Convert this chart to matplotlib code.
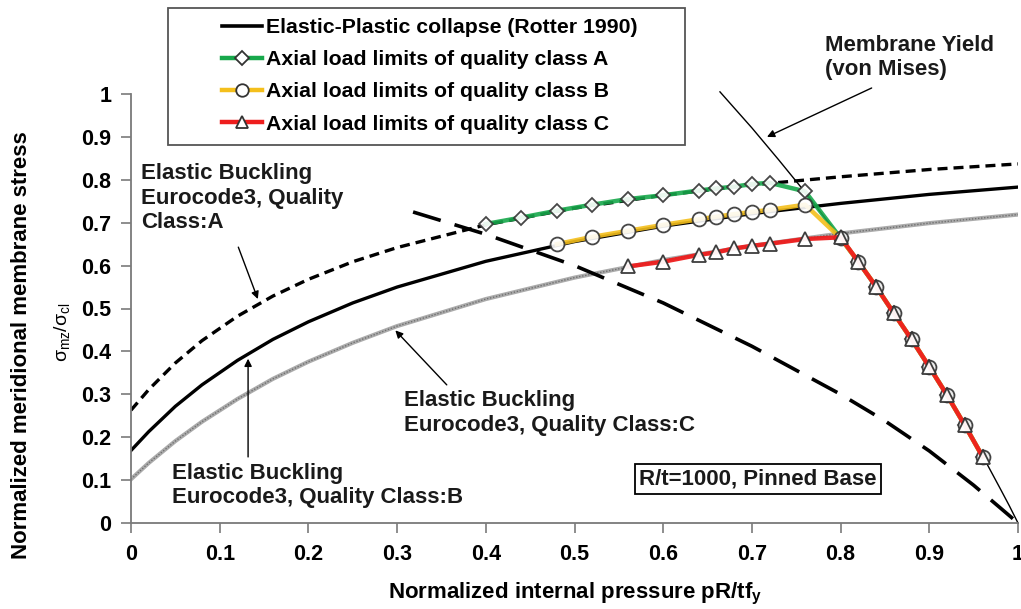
import matplotlib
matplotlib.use("Agg")
import matplotlib.pyplot as plt
from matplotlib.lines import Line2D
from matplotlib.patches import Rectangle

plt.rcParams["font.family"] = ["Liberation Sans", "DejaVu Sans"]
plt.rcParams["mathtext.fontset"] = "custom"
plt.rcParams["mathtext.rm"] = "Liberation Sans"
plt.rcParams["mathtext.it"] = "Liberation Sans:italic"
plt.rcParams["mathtext.bf"] = "Liberation Sans:bold"

# ---- data -------------------------------------------------------------
curve_x = [0.0, 0.02, 0.05, 0.08, 0.12, 0.16, 0.20, 0.25, 0.30, 0.40,
           0.50, 0.60, 0.70, 0.80, 0.90, 1.00]
buckling_a = [0.263, 0.311, 0.373, 0.425, 0.482, 0.529, 0.568, 0.609, 0.642,
              0.695, 0.734, 0.764, 0.788, 0.807, 0.824, 0.837]
buckling_b = [0.169, 0.213, 0.272, 0.322, 0.379, 0.428, 0.469, 0.513, 0.550,
              0.610, 0.656, 0.692, 0.721, 0.745, 0.766, 0.783]
buckling_c = [0.102, 0.140, 0.191, 0.236, 0.289, 0.336, 0.376, 0.420, 0.459,
              0.522, 0.572, 0.613, 0.646, 0.675, 0.699, 0.719]

collapse_x = [0.318, 0.40, 0.50, 0.60, 0.70, 0.80, 0.85, 0.90, 0.95, 1.00]
collapse_y = [0.725, 0.673, 0.600, 0.513, 0.412, 0.300, 0.238, 0.168, 0.088, 0.0]

yield_x = [0.664, 0.70, 0.73, 0.76, 0.80, 0.84, 0.88, 0.92, 0.96, 0.98, 0.99, 1.00]
yield_y = [1.005, 0.921, 0.847, 0.771, 0.664, 0.550, 0.429, 0.298, 0.157, 0.080, 0.041, 0.0]

# shared points on the yield branch
desc_x = [0.82, 0.84, 0.86, 0.88, 0.90, 0.92, 0.94, 0.96]
desc_y = [0.609, 0.551, 0.489, 0.428, 0.364, 0.298, 0.228, 0.155]

class_a_x = [0.40, 0.44, 0.48, 0.52, 0.56, 0.60, 0.64, 0.66, 0.68, 0.70, 0.72, 0.76, 0.80] + desc_x
class_a_y = [0.697, 0.712, 0.728, 0.742, 0.755, 0.764, 0.775, 0.780, 0.784, 0.790, 0.793, 0.773, 0.664] + desc_y
class_b_x = [0.48, 0.52, 0.56, 0.60, 0.64, 0.66, 0.68, 0.70, 0.72, 0.76, 0.80] + desc_x
class_b_y = [0.650, 0.667, 0.681, 0.695, 0.708, 0.714, 0.720, 0.725, 0.730, 0.742, 0.664] + desc_y
class_c_x = [0.56, 0.60, 0.64, 0.66, 0.68, 0.70, 0.72, 0.76, 0.80] + desc_x
class_c_y = [0.598, 0.609, 0.625, 0.631, 0.640, 0.646, 0.651, 0.662, 0.666] + desc_y

tick_vals = [0, 0.1, 0.2, 0.3, 0.4, 0.5, 0.6, 0.7, 0.8, 0.9, 1]
tick_labels = ["0", "0.1", "0.2", "0.3", "0.4", "0.5", "0.6", "0.7", "0.8", "0.9", "1"]

legend_labels = ["Elastic-Plastic collapse (Rotter 1990)",
                 "Axial load limits of quality class A",
                 "Axial load limits of quality class B",
                 "Axial load limits of quality class C"]

GREEN = "#17a84b"
YELLOW = "#f4bf1c"
RED = "#ee1d1d"
EDGE = "#333333"

# ---- figure -------------------------------------------------------------
W, H = 1021, 609
fig = plt.figure(figsize=(W / 100, H / 100), dpi=100)
ax = fig.add_axes([131 / W, 1 - 523 / H, 887 / W, 429 / H])

# elastic buckling curves
ax.plot(curve_x, buckling_a, color="black", lw=2.4, ls=(0, (3.0, 1.8)), zorder=2)
ax.plot(curve_x, buckling_b, color="black", lw=2.4, zorder=2)
ax.plot(curve_x, buckling_c, color="#ababab", lw=3.0, zorder=2)
ax.plot(curve_x, buckling_c, color="#707070", lw=1.0, ls=(0, (1, 1.2)), zorder=2)

# long-dashed curve
ax.plot(collapse_x, collapse_y, color="black", lw=2.6, ls=(0, (8, 4)), zorder=2)

# von Mises membrane yield
ax.plot(yield_x, yield_y, color="black", lw=1.0, zorder=2.5, clip_on=False)

# axial load limits
ax.plot(class_a_x, class_a_y, color=GREEN, lw=3.2, alpha=0.9, zorder=3,
        marker="D", ms=7, mfc="white", mec=EDGE, mew=1.3)
ax.plot(class_b_x, class_b_y, color=YELLOW, lw=3.2, alpha=0.9, zorder=3.1,
        marker="o", ms=10, mfc="white", mec=EDGE, mew=1.3)
ax.plot(class_c_x, class_c_y, color=RED, lw=3.2, alpha=0.95, zorder=3.2,
        marker="^", ms=9.5, mfc="white", mec=EDGE, mew=1.3)

ax.set_xlim(0, 1)
ax.set_ylim(0, 1)
ax.set_xticks(tick_vals)
ax.set_xticklabels(tick_labels)
ax.set_yticks(tick_vals)
ax.set_yticklabels(tick_labels)
for s in ("top", "right"):
    ax.spines[s].set_visible(False)
for s in ("left", "bottom"):
    ax.spines[s].set_color("#7a7a7a")
    ax.spines[s].set_linewidth(1.3)
ax.tick_params(direction="out", length=7, width=1.2, color="#7a7a7a",
               labelsize=15.5)
ax.tick_params(axis="x", pad=8)
ax.tick_params(axis="y", pad=7)
for lab in ax.get_xticklabels() + ax.get_yticklabels():
    lab.set_fontweight("bold")

# axis titles
fig.text(575 / W, 1 - 594 / H, r"Normalized internal pressure pR/tf$_{\mathbf{y}}$",
         ha="center", va="center", fontsize=16, fontweight="bold")
fig.text(22 / W, 1 - 345 / H, "Normalized meridional membrane stress",
         ha="center", va="center", rotation=90, fontsize=16, fontweight="bold")
fig.text(62 / W, 1 - 332 / H, r"$\mathrm{\sigma_{mz}/\sigma_{cl}}$",
         ha="center", va="center", rotation=90, fontsize=14)

# annotations
arrow = dict(arrowstyle="-|>", color="black", lw=1.0, mutation_scale=11,
             shrinkA=0, shrinkB=0)
txt = dict(fontsize=16, fontweight="bold", color="#1a1a1a", linespacing=1.2)

ax.text(0.011, 0.838, "Elastic Buckling\nEurocode3, Quality\nClass:A",
        ha="left", va="top", **txt)
ax.annotate("", xy=(0.143, 0.522), xytext=(0.121, 0.643), arrowprops=arrow)

ax.text(0.046, 0.141, "Elastic Buckling\nEurocode3, Quality Class:B",
        ha="left", va="top", **txt)
ax.annotate("", xy=(0.132, 0.383), xytext=(0.132, 0.154), arrowprops=arrow)

ax.text(0.308, 0.309, "Elastic Buckling\nEurocode3, Quality Class:C",
        ha="left", va="top", **txt)
ax.annotate("", xy=(0.298, 0.449), xytext=(0.356, 0.322), arrowprops=arrow)

ax.text(0.782, 1.137, "Membrane Yield\n(von Mises)", ha="left", va="top",
        fontsize=16, fontweight="bold", color="#1a1a1a", linespacing=1.2,
        clip_on=False)
ax.annotate("", xy=(0.717, 0.900), xytext=(0.835, 1.014), arrowprops=arrow,
            annotation_clip=False)

ax.text(0.707, 0.103, "R/t=1000, Pinned Base", ha="center", va="center",
        fontsize=16, fontweight="bold", color="#1a1a1a",
        bbox=dict(boxstyle="square,pad=0.2", fc="white", ec="black", lw=1.3))

# legend
handles = [
    Line2D([], [], color="black", lw=2.6),
    Line2D([], [], color=GREEN, lw=3.2, marker="D", ms=7, mfc="white", mec=EDGE, mew=1.3),
    Line2D([], [], color=YELLOW, lw=3.2, marker="o", ms=9, mfc="white", mec=EDGE, mew=1.3),
    Line2D([], [], color=RED, lw=3.2, marker="^", ms=9, mfc="white", mec=EDGE, mew=1.3),
]
fig.legend(handles, legend_labels, loc="upper left",
           bbox_to_anchor=(222 / W, 1 - 18 / H), frameon=False,
           prop=dict(size=15.3, weight="bold"), handlelength=1.9,
           handletextpad=0.15, labelspacing=0.62, borderpad=0,
           borderaxespad=0)
fig.patches.append(Rectangle((168 / W, 1 - 145 / H), (685 - 168) / W, (145 - 8) / H,
                             transform=fig.transFigure, fill=False,
                             edgecolor="#555555", lw=1.3))

fig.savefig("out.png", dpi=100)
